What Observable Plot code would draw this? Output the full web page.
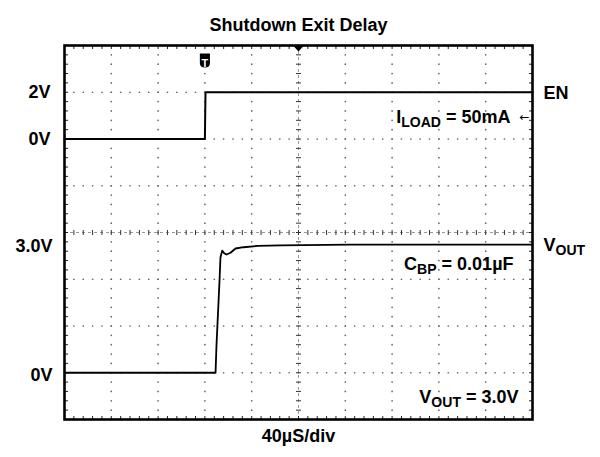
<!DOCTYPE html>
<html><head><meta charset="utf-8">
<script src="https://cdn.jsdelivr.net/npm/d3@7"></script>
<script src="https://cdn.jsdelivr.net/npm/@observablehq/plot@0.6"></script>
<style>body{margin:0;background:#fff}</style>
</head><body><div id="chart"></div>
<script>
// ---------- data ----------
const title = "Shutdown Exit Delay";
const xLabel = "40µS/div";
const timePerDiv = 40;          // µs per division
const divsX = 10, divsY = 8, minorPerDiv = 5;

// EN trace (time µs, volts)
const enTime  = [0, 120, 120.5, 400];
const enVolts = [0, 0, 2, 2];
// VOUT trace (time µs, volts)
const voutTime  = [0, 129.1, 129.9, 132.5, 133.3, 134.8, 136.5, 138.5, 141.9, 146.2, 153, 165, 184.6, 244, 400];
const voutVolts = [0, 0, 0.64, 2.16, 2.70, 2.86, 2.80, 2.77, 2.81, 2.91, 2.94, 2.97, 2.985, 3.0, 3.0];

// channel placement on the screen (division of 0 V, volts per division)
const enOffsetDiv = 6, enVoltsPerDiv = 2;
const voutOffsetDiv = 1, voutVoltsPerDiv = 1.095;

const enLevelVolts = [2, 0];
const enLevelLabels = ["2V", "0V"];
const voutLevelVolts = [3.0, 0];
const voutLevelLabels = ["3.0V", "0V"];

const channelNames = ["EN", "V_{OUT}"];
const channelNameVolts = [2, 3.0];

const annotations = ["I_{LOAD} = 50mA", "C_{BP} = 0.01µF", "V_{OUT} = 3.0V"];
const annotationDiv = [6.46, 3.32, 0.47];
const annotationInset = [22, 19, 14];
const triggerTime = 120;
const centerTime = 200;

// ---------- helpers ----------
const enDiv = v => enOffsetDiv + v / enVoltsPerDiv;
const voutDiv = v => voutOffsetDiv + v / voutVoltsPerDiv;
const enData = enTime.map((t, i) => ({t, y: enDiv(enVolts[i])}));
const voutData = voutTime.map((t, i) => ({t, y: voutDiv(voutVolts[i])}));

const xMax = divsX * timePerDiv;
const xMinor = d3.range(0, divsX * minorPerDiv + 1).map(i => i * timePerDiv / minorPerDiv);
const yMinor = d3.range(0, divsY * minorPerDiv + 1).map(i => i / minorPerDiv);
const xMajor = d3.range(1, divsX).map(i => i * timePerDiv).filter(x => x !== centerTime);
const yMajor = d3.range(1, divsY).filter(y => y !== divsY / 2);
const xInner = xMinor.slice(1, -1), yInner = yMinor.slice(1, -1);

const gridDots = [];
for (const x of xMajor) for (const y of yInner) gridDots.push({x, y});
for (const y of yMajor) for (const x of xInner) gridDots.push({x, y});

const sym = f => ({draw(c, s) { const r = Math.sqrt(s / Math.PI); f(c, r); }});
const hDash = sym((c, r) => { c.moveTo(-r, 0); c.lineTo(r, 0); });
const vDash = sym((c, r) => { c.moveTo(0, -r); c.lineTo(0, r); });
const tickDown = sym((c, r) => { c.moveTo(0, 0); c.lineTo(0, r); });
const tickUp = sym((c, r) => { c.moveTo(0, 0); c.lineTo(0, -r); });
const tickRight = sym((c, r) => { c.moveTo(0, 0); c.lineTo(r, 0); });
const tickLeft = sym((c, r) => { c.moveTo(0, 0); c.lineTo(-r, 0); });
const triDown = sym((c, r) => { c.moveTo(-r, 0); c.lineTo(r, 0); c.lineTo(0, r * 1.1); c.closePath(); });
const shield = sym((c, r) => {
  c.moveTo(-r * 0.72, -r); c.lineTo(r * 0.72, -r); c.lineTo(r * 0.72, r * 0.35);
  c.quadraticCurveTo(r * 0.72, r, 0, r); c.quadraticCurveTo(-r * 0.72, r, -r * 0.72, r * 0.35); c.closePath();
});

const FS = 18;
const SUB = 0.78;
const txt = {fill: "black", fontWeight: "bold", fontSize: FS};

const chart = Plot.plot({
  width: 600, height: 457,
  marginLeft: 64, marginRight: 68, marginTop: 45, marginBottom: 38,
  x: {domain: [0, xMax], axis: null},
  y: {domain: [0, divsY], axis: null},
  style: {fontFamily: "'Liberation Sans', Arial, sans-serif", background: "white"},
  marks: [
    // dotted grid
    Plot.dot(gridDots, {x: "x", y: "y", r: 0.85, fill: "#666", stroke: "none"}),
    // center cross lines
    Plot.ruleY([divsY / 2], {stroke: "#999", strokeWidth: 1, strokeDasharray: "3,3"}),
    Plot.ruleX([centerTime], {stroke: "#999", strokeWidth: 1, strokeDasharray: "3,3"}),
    Plot.dot(xInner, {x: d => d, y: () => divsY / 2, symbol: vDash, r: 2.5, stroke: "#333", strokeWidth: 1}),
    Plot.dot(yInner, {x: () => centerTime, y: d => d, symbol: hDash, r: 2.5, stroke: "#333", strokeWidth: 1}),
    // frame minor ticks
    Plot.dot(xInner, {x: d => d, y: () => divsY, symbol: tickDown, r: 3.5, stroke: "#222", strokeWidth: 1}),
    Plot.dot(xInner, {x: d => d, y: () => 0, symbol: tickUp, r: 3.5, stroke: "#222", strokeWidth: 1}),
    Plot.dot(yInner, {x: () => 0, y: d => d, symbol: tickRight, r: 3.5, stroke: "#222", strokeWidth: 1}),
    Plot.dot(yInner, {x: () => xMax, y: d => d, symbol: tickLeft, r: 3.5, stroke: "#222", strokeWidth: 1}),
    // traces
    Plot.line(enData, {x: "t", y: "y", stroke: "black", strokeWidth: 2}),
    Plot.line(voutData, {x: "t", y: "y", stroke: "black", strokeWidth: 1.8, curve: "linear"}),
    Plot.frame({stroke: "black", strokeWidth: 2.6}),
    // trigger markers
    Plot.dot([centerTime], {x: d => d, frameAnchor: "top", symbol: triDown, r: 5.5, fill: "black", stroke: "none"}),
    Plot.dot([triggerTime], {x: d => d, frameAnchor: "top", dy: 15, symbol: shield, r: 7, fill: "black", stroke: "none"}),
    Plot.text([triggerTime], {x: d => d, frameAnchor: "top", dy: 14, text: () => "T", fill: "white", fontWeight: "bold", fontSize: 11}),
    // left level labels
    Plot.text(enLevelVolts, {y: d => enDiv(d), text: (d, i) => enLevelLabels[i], frameAnchor: "left", dx: -14, textAnchor: "end", ...txt}),
    Plot.text(voutLevelVolts, {y: d => voutDiv(d), text: (d, i) => voutLevelLabels[i], frameAnchor: "left", dx: -12, dy: 2, textAnchor: "end", ...txt}),
    // right channel names
    Plot.text(channelNames, {y: (d, i) => i === 0 ? enDiv(channelNameVolts[i]) : voutDiv(channelNameVolts[i]), text: d => d, frameAnchor: "right", dx: 11, dy: 1, textAnchor: "start", ...txt}),
    // annotations (one mark each, so each gets its own inset)
    ...annotations.map((a, i) => Plot.text([a], {y: () => annotationDiv[i], text: d => d, frameAnchor: "right", dx: -annotationInset[i], textAnchor: "end", ...txt})),
    Plot.text(["←"], {y: () => annotationDiv[0], text: d => d, frameAnchor: "right", dx: -3, textAnchor: "end", fill: "black", fontSize: 12, fontFamily: "DejaVu Sans"}),
    // title & x label
    Plot.text([title], {frameAnchor: "top", dy: -27, text: d => d, ...txt}),
    Plot.text([xLabel], {frameAnchor: "bottom", dy: 22, text: d => d, ...txt})
  ]
});

// subscripts: "X_{SUB}"
d3.select(chart).selectAll("text").each(function() {
  const t = this.textContent;
  if (!t.includes("_{")) return;
  const parts = t.split(/(_\{[^}]*\})/).filter(p => p !== "");
  while (this.firstChild) this.removeChild(this.firstChild);
  let shifted = false;
  for (const p of parts) {
    const ts = document.createElementNS("http://www.w3.org/2000/svg", "tspan");
    if (p.startsWith("_{")) {
      ts.textContent = p.slice(2, -1);
      ts.setAttribute("font-size", (FS * SUB) + "px");
      ts.setAttribute("dy", "4");
      shifted = true;
    } else {
      ts.textContent = p;
      if (shifted) { ts.setAttribute("dy", "-4"); shifted = false; }
    }
    this.appendChild(ts);
  }
});

document.getElementById("chart").appendChild(chart);
</script>
</body></html>
